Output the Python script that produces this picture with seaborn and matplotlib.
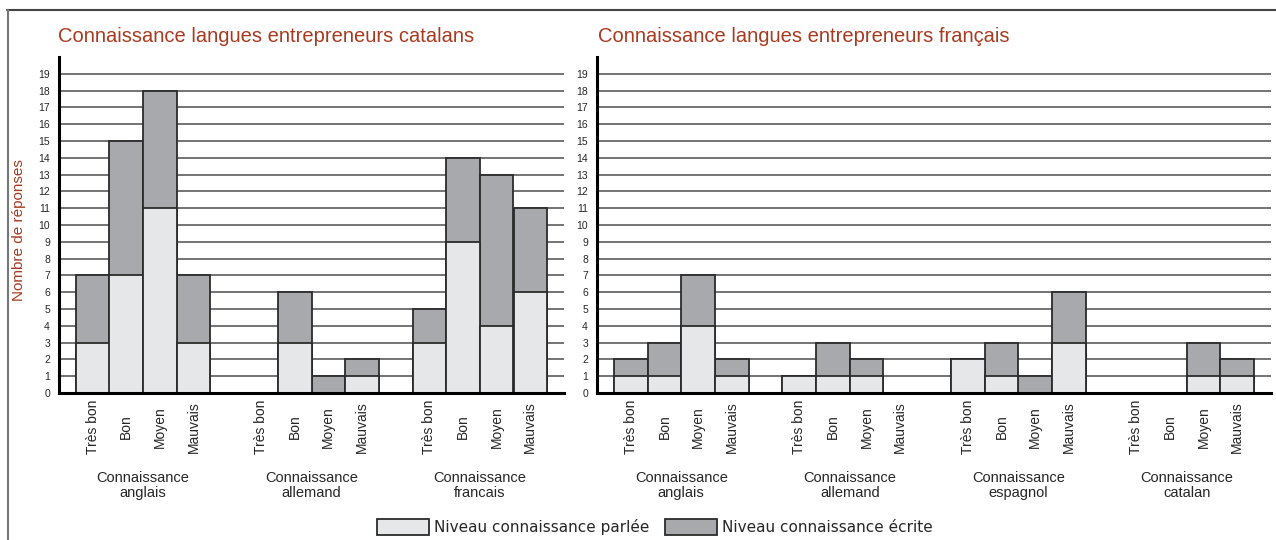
import matplotlib
matplotlib.use("Agg")
import matplotlib.pyplot as plt
from matplotlib import font_manager
from matplotlib.patches import Patch
from matplotlib.lines import Line2D
from matplotlib.transforms import blended_transform_factory
import seaborn as sns
import pandas as pd

# data
niveaux = ["Très bon", "Bon", "Moyen", "Mauvais"]

cat_title = "Connaissance langues entrepreneurs catalans"
cat_groups = ["Connaissance\nanglais", "Connaissance\nallemand", "Connaissance\nfrancais"]
cat_parlee = [3, 7, 11, 3, 0, 3, 0, 1, 3, 9, 4, 6]
cat_ecrite = [4, 8, 7, 4, 0, 3, 1, 1, 2, 5, 9, 5]

fr_title = "Connaissance langues entrepreneurs français"
fr_groups = ["Connaissance\nanglais", "Connaissance\nallemand",
             "Connaissance\nespagnol", "Connaissance\ncatalan"]
fr_parlee = [1, 1, 4, 1, 1, 1, 1, 0, 2, 1, 0, 3, 0, 0, 1, 1]
fr_ecrite = [1, 2, 3, 1, 0, 2, 1, 0, 0, 2, 1, 3, 0, 0, 2, 1]

legend_labels = ["Niveau connaissance parlée", "Niveau connaissance écrite"]
ylabel = "Nombre de réponses"

light = "#e6e7e8"
dark = "#a7a9ac"
edge = "#2b2b2b"
red = "#a83a1f"

sns.set_style("white")
installed = {f.name for f in font_manager.fontManager.ttflist}
has_narrow = "Liberation Sans Narrow" in installed
narrow = "Liberation Sans Narrow" if has_narrow else "Liberation Sans"
title_size = 16.5 if has_narrow else 14.5
plt.rcParams["font.family"] = ["Liberation Sans", "DejaVu Sans"]

W, H = 1276, 540
fig = plt.figure(figsize=(W / 100, H / 100), dpi=100)
ax1 = fig.add_axes([59 / W, 147 / H, 505 / W, 336 / H])
ax2 = fig.add_axes([597 / W, 147 / H, 674 / W, 336 / H])


def draw_panel(ax, groups, parlee, ecrite):
    pos = [g * 5 + i for g in range(len(groups)) for i in range(4)]
    total = [p + e for p, e in zip(parlee, ecrite)]
    df = pd.DataFrame({"pos": pos, "total": total, "parlee": parlee})
    # écrite stacked on parlée: draw totals first, then parlée over them
    sns.barplot(data=df, x="pos", y="total", native_scale=True, width=1,
                color=dark, saturation=1, edgecolor=edge, linewidth=1.3,
                errorbar=None, ax=ax, zorder=3)
    sns.barplot(data=df, x="pos", y="parlee", native_scale=True, width=1,
                color=light, saturation=1, edgecolor=edge, linewidth=1.3,
                errorbar=None, ax=ax, zorder=3)

    ax.set_xlim(-1, len(groups) * 5 - 1)
    ax.set_ylim(0, 20)
    ax.set_yticks(range(20))
    ax.set_yticklabels([str(v) for v in range(20)], fontsize=7.5, family=narrow)
    ax.set_xticks(pos)
    ax.set_xticklabels(niveaux * len(groups), rotation=90, va="center", fontsize=10)
    ax.tick_params(axis="y", length=0, pad=6.5)
    ax.tick_params(axis="x", length=0, pad=24.5)
    ax.yaxis.grid(True, color="#4d4d4d", linewidth=1.1)
    ax.xaxis.grid(False)
    ax.set_axisbelow(True)
    ax.set_xlabel("")
    ax.set_ylabel("")
    for s in ["top", "right"]:
        ax.spines[s].set_visible(False)
    for s in ["left", "bottom"]:
        ax.spines[s].set_linewidth(2.2)
        ax.spines[s].set_color("black")
        ax.spines[s].set_zorder(5)

    trans = blended_transform_factory(ax.transData, ax.transAxes)
    for g, name in enumerate(groups):
        ax.text(g * 5 + 1.5, -0.274, name, transform=trans, ha="center",
                va="center", fontsize=10.5, linespacing=1.1)


draw_panel(ax1, cat_groups, cat_parlee, cat_ecrite)
draw_panel(ax2, fr_groups, fr_parlee, fr_ecrite)

fig.text(58 / W, 1 - 37 / H, cat_title, color=red, fontsize=title_size, family=narrow,
         ha="left", va="center")
fig.text(598 / W, 1 - 37 / H, fr_title, color=red, fontsize=title_size, family=narrow,
         ha="left", va="center")
fig.text(19 / W, 1 - 230 / H, ylabel, color=red, fontsize=11, family=narrow,
         rotation=90, ha="center", va="center")

handles = [Patch(facecolor=light, edgecolor=edge, linewidth=1.3, label=legend_labels[0]),
           Patch(facecolor=dark, edgecolor=edge, linewidth=1.3, label=legend_labels[1])]
fig.legend(handles=handles, loc="center", bbox_to_anchor=(655 / W, 1 - 527 / H),
           ncol=2, frameon=False, handlelength=3.4, handleheight=1.3,
           handletextpad=0.35, columnspacing=1.0,
           prop={"family": "DejaVu Sans", "size": 11})

# outer frame (top and left edges only)
fig.add_artist(Line2D([7 / W, 1], [1 - 10 / H, 1 - 10 / H], transform=fig.transFigure,
                      color="#444444", linewidth=1.5))
fig.add_artist(Line2D([8 / W, 8 / W], [0, 1 - 10 / H], transform=fig.transFigure,
                      color="#777777", linewidth=1.5))

fig.savefig("out.png", dpi=100)
